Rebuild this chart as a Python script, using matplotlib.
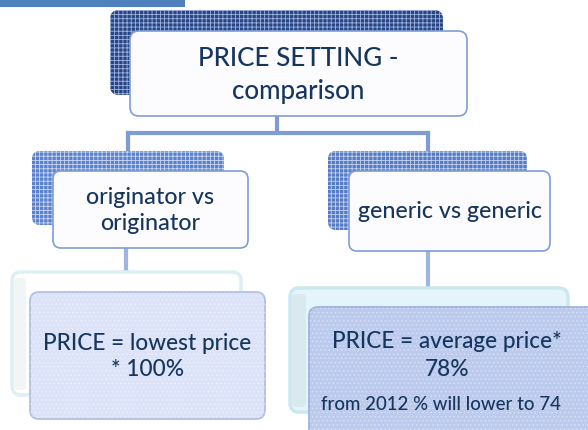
import matplotlib
matplotlib.use("Agg")
import matplotlib.pyplot as plt
from matplotlib.patches import FancyBboxPatch, Rectangle

# ---- content ----
title_lines = ["PRICE SETTING -", "comparison"]
branch_labels = [["originator vs", "originator"], ["generic vs generic"]]
formula_lines = [["PRICE = lowest price", "* 100%"], ["PRICE = average price*", "78%"]]
note_text = "from 2012 % will lower to 74"

FONT = ["Lato", "DejaVu Sans"]
TXT = "#17365D"

fig = plt.figure(figsize=(5.88, 4.30), dpi=100)
ax = fig.add_axes([0, 0, 1, 1])
ax.set_xlim(0, 588)
ax.set_ylim(430, 0)
ax.axis("off")
renderer = fig.canvas.get_renderer()


def rbox(x0, y0, x1, y1, fc, ec="none", lw=1.0, r=8, hatch=None, hcol=None, z=1, halpha=1.0):
    p = FancyBboxPatch((x0, y0), x1 - x0, y1 - y0,
                       boxstyle=f"round,pad=0,rounding_size={r}",
                       fc=fc, ec=ec, lw=lw, zorder=z)
    ax.add_patch(p)
    if hatch:
        h = FancyBboxPatch((x0, y0), x1 - x0, y1 - y0,
                           boxstyle=f"round,pad=0,rounding_size={r}",
                           fc="none", ec=hcol, lw=0, hatch=hatch, zorder=z + 0.1,
                           alpha=halpha)
        ax.add_patch(h)
    return p


def sized_text(x, y, s, size, ha="center", color=TXT, z=10):
    return ax.text(x, y, s, ha=ha, va="center", fontsize=size, family=FONT,
                   color=color, zorder=z, fontweight="medium")


def size_for(s, width):
    t = ax.text(0, 0, s, fontsize=14, family=FONT, fontweight="medium")
    w = t.get_window_extent(renderer).width
    t.remove()
    return 14 * width / w * 1.06


plt.rcParams["hatch.linewidth"] = 0.6

# top-left bar
ax.add_patch(Rectangle((0, 0), 185, 7, fc="#4F81BD", ec="none", zorder=1))

# connectors
LC = "#7E9CD3"
ax.plot([277, 277], [116, 133], color=LC, lw=3, zorder=0.5, solid_capstyle="butt")
ax.plot([128, 428], [133, 133], color=LC, lw=3, zorder=0.5, solid_capstyle="projecting")
ax.plot([128, 128], [133, 160], color=LC, lw=3, zorder=0.5)
ax.plot([428, 428], [133, 160], color=LC, lw=3, zorder=0.5)
ax.plot([126, 126], [245, 272], color="#9FB4E0", lw=3, zorder=0.5)
ax.plot([428, 428], [248, 292], color="#9FB4E0", lw=3, zorder=0.5)

# title
rbox(110, 10, 443, 95, fc="#284686", r=9, hatch="++++", hcol="#9FB3DE", z=1)
rbox(130, 31, 467, 116, fc="#FCFCFF", ec="#7F9DD6", lw=1.2, r=9, z=2)
ts = size_for(title_lines[0], 190)
sized_text(298.5, 59, title_lines[0], ts)
sized_text(298.5, 91, title_lines[1], ts)

# middle boxes
rbox(32, 151, 224, 225, fc="#5A82CC", r=8, hatch="++++", hcol="#C9D7F2", z=1)
rbox(53, 171, 248, 248, fc="#FCFCFF", ec="#7F9DD6", lw=1.2, r=8, z=2)
rbox(328, 151, 527, 230, fc="#557BC4", r=8, hatch="++++", hcol="#C4D3F0", z=1)
rbox(349, 171, 550, 251, fc="#FCFCFF", ec="#7F9DD6", lw=1.2, r=8, z=2)
ms = (size_for(branch_labels[0][0], 121) + size_for(branch_labels[1][0], 175)) / 2
sized_text(150.5, 197, branch_labels[0][0], ms)
sized_text(150.5, 223, branch_labels[0][1], ms)
sized_text(449.5, 212, branch_labels[1][0], ms)

# bottom boxes - back layers
rbox(12, 272, 241, 395, fc="#FFFFFF", ec="#DDF0F3", lw=2.5, r=9, z=1)
rbox(14, 278, 26, 390, fc="#F1F5F5", ec="none", r=4, z=1.05)
rbox(290, 288, 568, 412, fc="#E3F5FB", ec="#CBE8EE", lw=2.5, r=9, z=1)
rbox(292, 294, 306, 407, fc="#D8EAED", ec="none", r=4, z=1.05)

# bottom boxes - front layers
rbox(30, 292, 265, 419, fc="#DCE3F8", ec="#AEBCE3", lw=1.2, r=9,
     hatch="....", hcol="#FFFFFF", halpha=0.35, z=2)
rbox(309, 307, 610, 450, fc="#BCCAEE", ec="#9AAEE0", lw=1.2, r=9,
     hatch="....", hcol="#FFFFFF", halpha=0.35, z=2)

fs = (size_for(formula_lines[0][0], 198) + size_for(formula_lines[1][0], 217)) / 2
sized_text(147.5, 343, formula_lines[0][0], fs)
sized_text(147.5, 370, formula_lines[0][1], fs)
sized_text(447, 342, formula_lines[1][0], fs)
sized_text(447, 370, formula_lines[1][1], fs)
ns = size_for(note_text, 227)
sized_text(321, 405, note_text, ns, ha="left")

fig.savefig("out.png", dpi=100)
